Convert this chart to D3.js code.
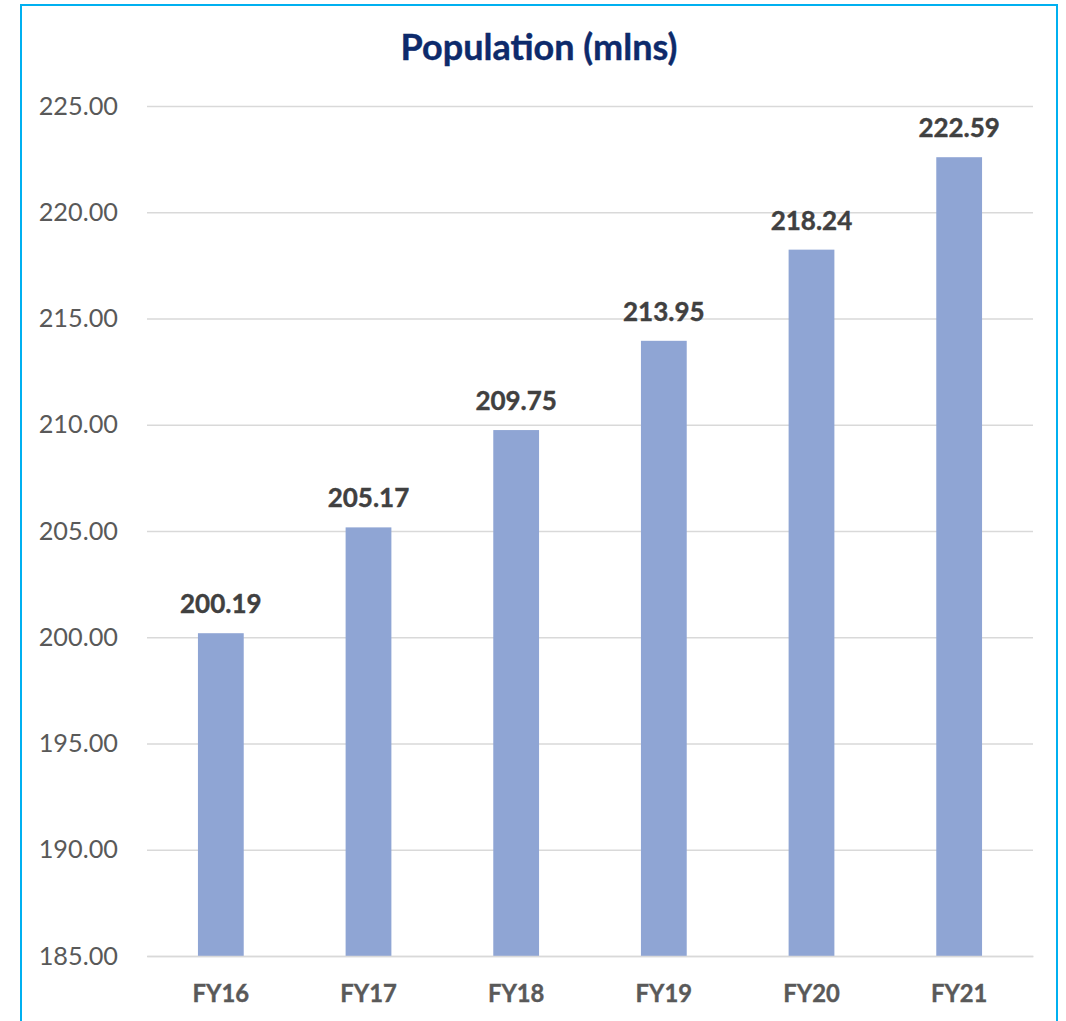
<!DOCTYPE html>
<html><head><meta charset="utf-8">
<script src="https://cdn.jsdelivr.net/npm/d3@7"></script>
<style>
html,body{margin:0;padding:0;background:#fff;}
svg{display:block;}
</style></head>
<body>
<script>
const categories = ["FY16","FY17","FY18","FY19","FY20","FY21"];
const values = [200.19, 205.17, 209.75, 213.95, 218.24, 222.59];
const yTicks = [185,190,195,200,205,210,215,220,225];
const title = "Population (mlns)";

(function(){
const W = 1066, H = 1021;
const svg = d3.select("body").append("svg").attr("width", W).attr("height", H);
const font = "Lato, 'Open Sans', 'Liberation Sans', sans-serif";

svg.append("rect").attr("x",21).attr("y",5).attr("width",1036).attr("height",1040)
  .attr("fill","none").attr("stroke","#00B0F0").attr("stroke-width",2);

const pL = 147, pR = 1033, pT = 106, pB = 956;
const x = d3.scaleBand().domain(categories).range([pL,pR]).paddingInner(0.69).paddingOuter(0.345);
const y = d3.scaleLinear().domain([185,225]).range([pB,pT]);

const grid = svg.append("g")
  .attr("transform",`translate(${pL},0)`)
  .call(d3.axisLeft(y).tickValues(yTicks).tickSize(-(pR-pL)).tickFormat(""));
grid.select(".domain").remove();
grid.selectAll("line").attr("stroke","#D9D9D9").attr("stroke-width",1.5);

const yAxis = svg.append("g").attr("transform",`translate(${pL},0)`)
  .call(d3.axisLeft(y).tickValues(yTicks).tickSize(0).tickPadding(29).tickFormat(d3.format(".2f")));
yAxis.select(".domain").remove();
yAxis.selectAll("text").attr("font-family",font).attr("font-size",25.3).attr("fill","#595959");

svg.selectAll(".bar").data(values).enter().append("rect")
  .attr("x",(d,i)=>x(categories[i])).attr("width",x.bandwidth())
  .attr("y",d=>y(d)).attr("height",d=>pB-y(d))
  .attr("fill","#8FA5D4");

svg.selectAll(".lbl").data(values).enter().append("text")
  .attr("x",(d,i)=>x(categories[i])+x.bandwidth()/2).attr("y",d=>y(d)-20)
  .attr("text-anchor","middle").attr("font-family",font).attr("font-weight","bold")
  .attr("font-size",26).attr("fill","#404040").attr("stroke","#404040").attr("stroke-width",0.4)
  .text(d=>d.toFixed(2));

const xAxis = svg.append("g").attr("transform",`translate(0,${pB})`)
  .call(d3.axisBottom(x).tickSize(0).tickPadding(29));
xAxis.select(".domain").attr("stroke","#D9D9D9").attr("stroke-width",1.5);
xAxis.selectAll("text").attr("font-family",font).attr("font-weight","bold")
  .attr("font-size",23.8).attr("fill","#595959").attr("stroke","#595959").attr("stroke-width",0.4);

svg.append("text").attr("x",539).attr("y",60).attr("text-anchor","middle")
  .attr("font-family",font).attr("font-weight","bold").attr("font-size",36)
  .attr("fill","#0D2A6B").attr("stroke","#0D2A6B").attr("stroke-width",0.4).text(title);
})();
</script>
</body></html>
